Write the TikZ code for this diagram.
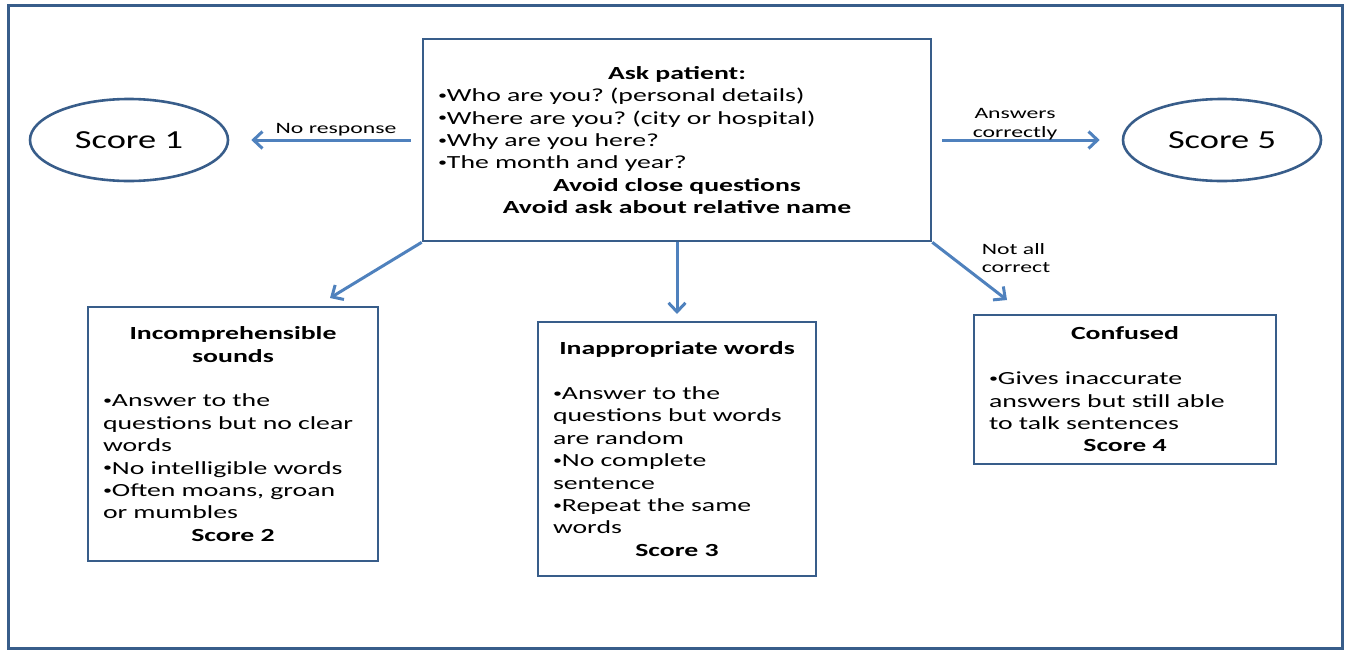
\documentclass[tikz,border=0pt]{standalone}
\usepackage{fontspec}
\setmainfont[FakeStretch=1.4]{Carlito}
\newfontfamily\bodyfam[FakeStretch=1.5]{Carlito}
\usetikzlibrary{arrows.meta,shapes.geometric}
\definecolor{frameblue}{RGB}{56,93,138}
\definecolor{arrowblue}{RGB}{79,129,189}
\newcommand\bul{\raisebox{0.12em}{\scalebox{0.65}{•}}}
\frenchspacing
\begin{document}
\begin{tikzpicture}[x=1pt,y=-1pt,
  box/.style={draw=frameblue, line width=2.6pt, inner xsep=15pt, inner ysep=0pt,
    font=\bodyfam\fontsize{18.5}{22.4}\selectfont,
    execute at begin node={\parindent=0pt\raggedright\frenchspacing}},
  oval/.style={ellipse, draw=frameblue, line width=2.6pt, minimum width=198pt,
    minimum height=82pt, inner sep=0pt, font=\fontsize{26}{30}\selectfont},
  arr/.style={draw=arrowblue, line width=3pt, -{Straight Barb[length=9pt,width=17pt]}},
  lbl/.style={font=\bodyfam\fontsize{15.8}{18.5}\selectfont, align=center, inner sep=0pt}]
\path[use as bounding box] (0,0) rectangle (1345,651);
\draw[frameblue, line width=3pt] (8,5) rectangle (1342,648);

\node[box, text width=478pt, minimum height=202pt] (top) at (677,140) {%
{\centering\bfseries Ask patient:\par}
\bul Who are you? (personal details)\\
\bul Where are you? (city or hospital)\\
\bul Why are you here?\\
\bul The month and year?\par
{\centering\bfseries Avoid close questions\\Avoid ask about relative name\par}};

\node[oval] (s1) at (129,140) {Score 1};
\node[oval] (s5) at (1222,140) {Score 5};

\node[box, text width=260pt, minimum height=254pt] (b2) at (233,434) {%
{\centering\bfseries Incomprehensible\\sounds\par}
\vspace{22.4pt}
\bul Answer to the\\
questions but no clear\\
words\\
\bul No intelligible words\\
\bul Often moans, groan\\
or mumbles\par
{\centering\bfseries Score 2\par}};

\node[box, text width=248pt, minimum height=254pt] (b3) at (677,449) {%
{\centering\bfseries Inappropriate words\par}
\vspace{22.4pt}
\bul Answer to the\\
questions but words\\
are random\\
\bul No complete\\
sentence\\
\bul Repeat the same\\
words\par
{\centering\bfseries Score 3\par}};

\node[box, text width=272pt, minimum height=149pt] (b4) at (1125,389.5) {%
{\centering\bfseries Confused\par}
\vspace{22.4pt}
\bul Gives inaccurate\\
answers but still able\\
to talk sentences\par
{\centering\bfseries Score 4\par}};

\coordinate (e2) at (330,298);
\coordinate (e3) at (677,314);
\coordinate (e4) at (1007,300);

\draw[arr, shorten <=11pt, shorten >=22pt] (top.west) -- (s1.east);
\draw[arr, shorten <=10pt, shorten >=22pt] (top.east) -- (s5.west);
\draw[arr] (top.south west) -- (e2);
\draw[arr] (top.south) -- (e3);
\draw[arr] (top.south east) -- (e4);

\node[lbl] (l1) at (336,130) {No response};
\node[lbl] (l5) at (1015,124) {Answers\\correctly};
\node[lbl, align=left] (l4) at (1016,258) {Not all\\correct};
\end{tikzpicture}
\end{document}
